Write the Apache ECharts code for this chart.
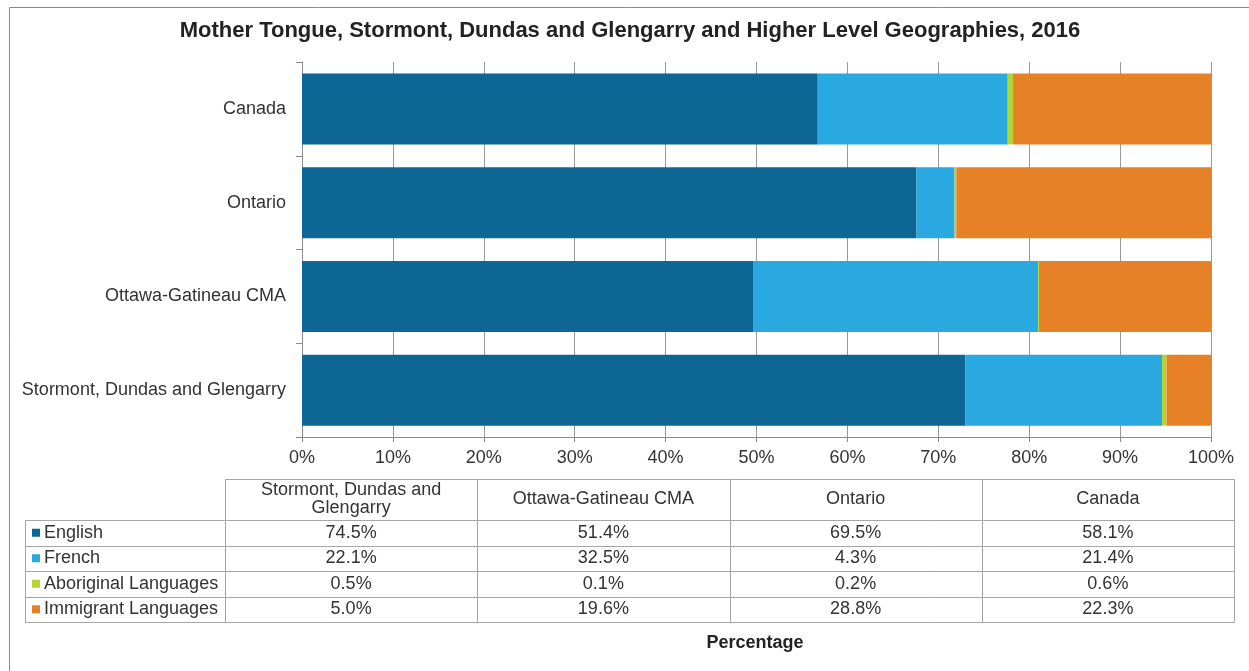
<!DOCTYPE html>
<html>
<head>
<meta charset="utf-8">
<script src="https://cdn.jsdelivr.net/npm/echarts@6/dist/echarts.min.js"></script>
<style>
  html, body { margin: 0; padding: 0; background: #fff; }
  #chart { width: 1249px; height: 671px; }
</style>
</head>
<body>
<div id="chart"></div>
<script>
"use strict";

// geographies, bottom to top on the axis, left to right in the table
var geographies = ['Stormont, Dundas and Glengarry', 'Ottawa-Gatineau CMA', 'Ontario', 'Canada'];
var tableHeaders = ['Stormont, Dundas and\nGlengarry', 'Ottawa-Gatineau CMA', 'Ontario', 'Canada'];
var languages = ['English', 'French', 'Aboriginal Languages', 'Immigrant Languages'];
var colors = ['#0d6694', '#29a9e0', '#b5d334', '#e78127'];

// percentages as shown in the table
var english = [74.5, 51.4, 69.5, 58.1];
var french = [22.1, 32.5, 4.3, 21.4];
var aboriginal = [0.5, 0.1, 0.2, 0.6];
var immigrant = [5.0, 19.6, 28.8, 22.3];

var xTicks = ['0%', '10%', '20%', '30%', '40%', '50%', '60%', '70%', '80%', '90%', '100%'];

var FONT = 'Arial, "Liberation Sans", sans-serif';
var rows = [english, french, aboriginal, immigrant];

// the bars are 100% stacked: each geography is scaled to its own total
var totals = geographies.map(function (g, i) {
    return rows.reduce(function (s, r) { return s + r[i]; }, 0);
});
function share(arr) {
    return arr.map(function (v, i) { return v / totals[i] * 100; });
}

var series = languages.map(function (name, k) {
    return {
        name: name,
        type: 'bar',
        stack: 'all',
        barWidth: 71,
        itemStyle: { color: colors[k] },
        data: share(rows[k])
    };
});

// data table under the chart
var graphic = [];
var tLeft = 25, cLeft = 225, cW = 252.25, hTop = 479, hBottom = 520, rowH = 25.5;
var tBottom = hBottom + rowH * languages.length;
var lineStyle = { stroke: '#a6a6a6', lineWidth: 1 };

function hline(x1, x2, y) {
    graphic.push({ type: 'line', shape: { x1: x1, y1: Math.round(y) + 0.5, x2: x2, y2: Math.round(y) + 0.5 }, style: lineStyle, silent: true });
}
function vline(x, y1, y2) {
    graphic.push({ type: 'line', shape: { x1: Math.round(x) + 0.5, y1: y1, x2: Math.round(x) + 0.5, y2: y2 }, style: lineStyle, silent: true });
}

hline(cLeft, cLeft + cW * 4, hTop);
for (var j = 0; j <= languages.length; j++) {
    hline(tLeft, cLeft + cW * 4, hBottom + rowH * j);
}
vline(tLeft, hBottom, tBottom + 0.5);
for (var c = 0; c <= 4; c++) {
    vline(cLeft + cW * c, hTop, tBottom + 0.5);
}
tableHeaders.forEach(function (h, c) {
    graphic.push({
        type: 'text', x: cLeft + cW * (c + 0.5), y: (hTop + hBottom) / 2,
        style: { text: h, fill: '#333', font: '18px ' + FONT, align: 'center', verticalAlign: 'middle', lineHeight: 18 },
        silent: true
    });
});
languages.forEach(function (name, k) {
    var yMid = hBottom + rowH * (k + 0.5);
    graphic.push({ type: 'rect', shape: { x: 32, y: yMid - 4, width: 8, height: 8 }, style: { fill: colors[k] }, silent: true });
    graphic.push({
        type: 'text', x: 44, y: yMid,
        style: { text: name, fill: '#333', font: '18px ' + FONT, align: 'left', verticalAlign: 'middle' },
        silent: true
    });
    rows[k].forEach(function (v, c) {
        graphic.push({
            type: 'text', x: cLeft + cW * (c + 0.5), y: yMid,
            style: { text: v.toFixed(1) + '%', fill: '#333', font: '18px ' + FONT, align: 'center', verticalAlign: 'middle' },
            silent: true
        });
    });
});

// outer frame and titles
graphic.push({ type: 'rect', shape: { x: 9.5, y: 7.5, width: 1400, height: 800 }, style: { fill: 'none', stroke: '#8c8c8c', lineWidth: 1 }, silent: true, z: -1 });
graphic.push({
    type: 'text', x: 630, y: 31,
    style: { text: 'Mother Tongue, Stormont, Dundas and Glengarry and Higher Level Geographies, 2016', fill: '#222', font: 'bold 22px ' + FONT, align: 'center', verticalAlign: 'middle' },
    silent: true
});
graphic.push({
    type: 'text', x: 755, y: 643,
    style: { text: 'Percentage', fill: '#222', font: 'bold 18px ' + FONT, align: 'center', verticalAlign: 'middle' },
    silent: true
});

var chart = echarts.init(document.getElementById('chart'));
chart.setOption({
    animation: false,
    textStyle: { fontFamily: FONT },
    grid: { left: 302, right: 38, top: 62, bottom: 234, containLabel: false },
    xAxis: {
        type: 'value',
        min: 0,
        max: 100,
        interval: 10,
        axisLine: { show: true, lineStyle: { color: '#8c8c8c' } },
        axisTick: { show: true, length: 5, lineStyle: { color: '#8c8c8c' } },
        splitLine: { show: true, lineStyle: { color: '#9a9a9a', width: 1 } },
        axisLabel: {
            color: '#333', fontSize: 18, margin: 12,
            formatter: function (v) { return xTicks[Math.round(v / 10)]; }
        }
    },
    yAxis: {
        type: 'category',
        data: geographies,
        axisLine: { show: true, lineStyle: { color: '#8c8c8c' } },
        axisTick: { show: true, length: 6, lineStyle: { color: '#8c8c8c' } },
        axisLabel: { color: '#333', fontSize: 18, margin: 16 }
    },
    series: series,
    graphic: graphic
});
</script>
</body>
</html>
